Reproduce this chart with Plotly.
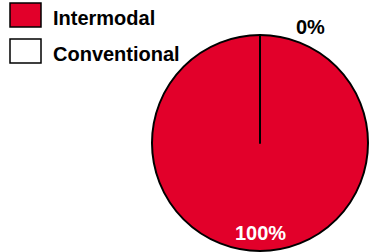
import plotly.graph_objects as go

categories = ["Intermodal", "Conventional"]
values = [100, 0]
colors = ["#E2002A", "#FFFFFF"]

W, H = 370, 252
total = sum(values)
pcts = [f"{round(v / total * 100)}%" for v in values]

fig = go.Figure()
fig.add_trace(go.Pie(
    labels=categories,
    values=values,
    marker=dict(colors=colors, line=dict(color="black", width=2)),
    sort=False,
    direction="clockwise",
    rotation=0,
    textinfo="none",
    hoverinfo="label+percent",
    showlegend=False,
    domain=dict(x=[152 / W, 368 / W], y=[1 / H, 1 - 35 / H]),
))

def px(x):
    return x / W

def py(y):
    return 1 - y / H

shapes = []
annotations = []
# manual legend
for i, (cat, col) in enumerate(zip(categories, colors)):
    top = 3 + i * 36
    shapes.append(dict(type="rect", xref="paper", yref="paper",
                       x0=px(10), x1=px(41), y0=py(top + 24), y1=py(top),
                       fillcolor=col, line=dict(color="black", width=1.5)))
    annotations.append(dict(x=px(51), y=py(top + 15), xref="paper", yref="paper",
                            text=f"<b>{cat}</b>", showarrow=False, xanchor="left",
                            yanchor="middle",
                            font=dict(family="Liberation Sans, Arial", size=20, color="black")))

# radial boundary line for the 0% slice
shapes.append(dict(type="line", xref="paper", yref="paper",
                   x0=px(260), x1=px(260), y0=py(143), y1=py(35),
                   line=dict(color="black", width=2)))

# slice labels
annotations.append(dict(x=px(310), y=py(27), xref="paper", yref="paper",
                        text=f"<b>{pcts[1]}</b>", showarrow=False,
                        xanchor="center", yanchor="middle",
                        font=dict(family="Liberation Sans, Arial", size=20, color="black")))
annotations.append(dict(x=px(260), y=py(233), xref="paper", yref="paper",
                        text=f"<b>{pcts[0]}</b>", showarrow=False,
                        xanchor="center", yanchor="middle",
                        font=dict(family="Liberation Sans, Arial", size=20, color="white")))

fig.update_layout(
    width=W, height=H,
    margin=dict(l=0, r=0, t=0, b=0),
    paper_bgcolor="white", plot_bgcolor="white",
    shapes=shapes, annotations=annotations,
)

fig.write_html(
    "out.html",
    config={"displayModeBar": False},
    post_script="document.body.style.margin='0';document.body.style.overflow='hidden';",
)
